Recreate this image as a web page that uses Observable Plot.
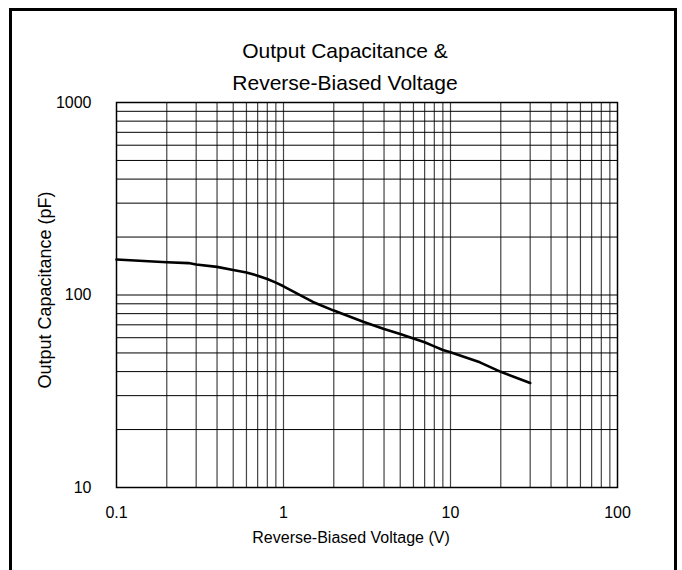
<!DOCTYPE html>
<html>
<head>
<meta charset="utf-8">
<script src="https://cdn.jsdelivr.net/npm/d3@7"></script>
<script src="https://cdn.jsdelivr.net/npm/@observablehq/plot@0.6"></script>
<style>
  html, body { margin: 0; padding: 0; background: #fff; }
  #wrap { position: relative; width: 682px; height: 570px; overflow: hidden; }
  #wrap svg { position: absolute; left: 0; top: 0; }
  #border { position: absolute; left: 9px; top: 8px; width: 662px; height: 600px;
            border: 3px solid #000; pointer-events: none; }
</style>
</head>
<body>
<div id="wrap"><div id="border"></div></div>
<script>
// ---- data ----
const voltage = [0.1, 0.2, 0.27, 0.3, 0.4, 0.5, 0.6, 0.7, 0.8, 0.9, 1, 1.5, 2, 3, 4, 5, 6, 7, 8, 9, 10, 15, 20, 30];
const capacitance = [153, 148, 146.5, 144, 140, 135, 131, 126, 121, 116, 111, 92, 83, 72.6, 66.6, 62.7, 59.5, 56.8, 54.1, 51.8, 50.4, 44.7, 39.9, 34.9];

const xTicks = [0.1, 1, 10, 100];
const xTickLabels = ["0.1", "1", "10", "100"];
const yTicks = [10, 100, 1000];
const yTickLabels = ["10", "100", "1000"];

const xGrid = [0.2,0.3,0.4,0.5,0.6,0.7,0.8,0.9, 1, 2,3,4,5,6,7,8,9, 10, 20,30,40,50,60,70,80,90];
const yGrid = [20,30,40,50,60,70,80,90, 100, 200,300,400,500,600,700,800,900];

const titleLines = ["Output Capacitance &", "Reverse-Biased Voltage"];
const xLabel = "Reverse-Biased Voltage (V)";
const yLabel = "Output Capacitance (pF)";

const data = voltage.map((v, i) => ({v, c: capacitance[i]}));

const chart = Plot.plot({
  width: 682,
  height: 570,
  marginLeft: 116,
  marginRight: 65,
  marginTop: 102,
  marginBottom: 83,
  style: {fontFamily: "'Liberation Sans', Arial, sans-serif", background: "transparent", color: "#000"},
  x: {type: "log", domain: [0.1, 100]},
  y: {type: "log", domain: [10, 1000]},
  marks: [
    Plot.ruleX(xGrid, {stroke: "#444", strokeWidth: 1.2}),
    Plot.ruleY(yGrid, {stroke: "#000", strokeWidth: 1}),
    Plot.frame({stroke: "#000", strokeWidth: 1.5}),
    Plot.line(data, {x: "v", y: "c", stroke: "#000", strokeWidth: 2.6}),
    Plot.axisX({ticks: xTicks, tickSize: 0, tickPadding: 19, fontSize: 16,
                tickFormat: (d) => xTickLabels[xTicks.indexOf(d)], label: null}),
    Plot.axisY({ticks: yTicks, tickSize: 0, tickPadding: 25, fontSize: 16,
                tickFormat: (d) => yTickLabels[yTicks.indexOf(d)], label: null}),
    Plot.text([titleLines[0]], {frameAnchor: "top", dx: -22, dy: -51, fontSize: 21, text: (d) => d, lineAnchor: "middle"}),
    Plot.text([titleLines[1]], {frameAnchor: "top", dx: -22, dy: -19, fontSize: 21, text: (d) => d, lineAnchor: "middle"}),
    Plot.text([xLabel], {frameAnchor: "bottom", dx: -16, dy: 50, fontSize: 16, text: (d) => d, lineAnchor: "middle"}),
    Plot.text([yLabel], {frameAnchor: "left", dx: -71, dy: -5, fontSize: 18, rotate: -90, textAnchor: "middle", text: (d) => d, lineAnchor: "middle"})
  ]
});
document.getElementById("wrap").appendChild(chart);
</script>
</body>
</html>
